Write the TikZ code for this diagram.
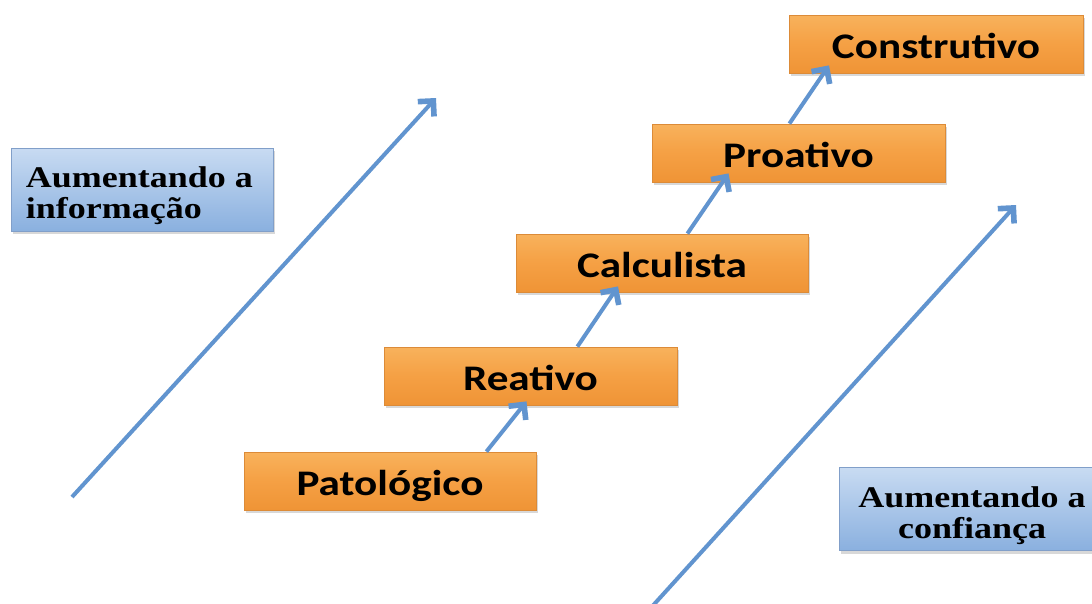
\documentclass[tikz,border=0pt]{standalone}
\usepackage{fontspec}
\usetikzlibrary{arrows.meta,shadows,calc}
\newfontfamily\boxfont{Carlito}
\newfontfamily\tagfont{Liberation Serif}
\definecolor{orTop}{HTML}{F8B25C}
\definecolor{orMid}{HTML}{F5A044}
\definecolor{orBot}{HTML}{EF9436}
\definecolor{orLine}{HTML}{DC8B38}
\definecolor{blTop}{HTML}{C8DBF2}
\definecolor{blBot}{HTML}{8AB0DF}
\definecolor{blLine}{HTML}{819FC9}
\definecolor{arrowBlue}{HTML}{6194CF}
\tikzset{
  stagebox/.style={draw=orLine, line width=0.8pt,
    top color=orTop, bottom color=orBot, middle color=orMid,
    minimum height=58pt, inner sep=0pt, text height=28pt, text depth=0pt,
    drop shadow={opacity=0.3, shadow xshift=1.5pt, shadow yshift=-3pt},
    font=\boxfont\bfseries\fontsize{36}{40}\selectfont},
  tagbox/.style={draw=blLine, line width=0.8pt,
    top color=blTop, bottom color=blBot,
    minimum height=83pt, inner sep=0pt,
    drop shadow={opacity=0.3, shadow xshift=1.5pt, shadow yshift=-3pt}},
  tagtext/.style={font=\tagfont\bfseries\fontsize{30}{31}\selectfont, inner sep=0pt},
  flow/.style={draw=arrowBlue, line width=4pt,
    -{Straight Barb[length=11pt,width=22pt,line width=0pt 1.4]}}
}
\newcommand{\wide}[1]{\scalebox{1.2}[1]{#1}}
\begin{document}
\begin{tikzpicture}[x=1pt,y=-1pt]
\useasboundingbox (0,0) rectangle (1092,603);
\fill[white] (0,0) rectangle (1092,603);

% the five stages, climbing to the upper right
\node[stagebox, minimum width=292pt] (pat) at (390,481) {\wide{Patológico}};
\node[stagebox, minimum width=293pt] (rea) at (530.5,376) {\wide{Reativo}};
\node[stagebox, minimum width=292pt] (cal) at (662,263) {\wide{Calculista}};
\node[stagebox, minimum width=293pt] (pro) at (798.5,153) {\wide{Proativo}};
\node[stagebox, minimum width=294pt] (con) at (936,44) {\wide{Construtivo}};

% side labels
\node[tagbox, minimum width=262pt] (info) at (142,189.5) {};
\node[tagtext, align=left, anchor=west]
  (infotxt) at ($(info.west)+(15,6)$) {\wide{Aumentando a}\\\wide{informação}};
\node[tagbox, minimum width=258pt] (conf) at (968,509) {};
\node[tagtext, align=center]
  (conftxt) at ($(conf.center)+(4,7)$) {\wide{Aumentando a}\\\wide{confiança}};

% long trend arrows
\coordinate (infoA) at (72,497);
\coordinate (infoB) at (436,98);
\coordinate (confA) at (648,611);
\coordinate (confB) at (1016,205);
\draw[flow] (infoA) -- (infoB);
\draw[flow] (confA) -- (confB);

% steps between stages
\draw[flow] ($(pat.north east)+(-50,0)$) -- ($(rea.south)+(-4,-4)$);
\draw[flow] ($(rea.north east)+(-100,0)$) -- ($(cal.south)+(-44,-6)$);
\draw[flow] ($(cal.north east)+(-121,0)$) -- ($(pro.south)+(-70,-9)$);
\draw[flow] ($(pro.north east)+(-156,0)$) -- ($(con.south)+(-107,-8)$);
\end{tikzpicture}
\end{document}
